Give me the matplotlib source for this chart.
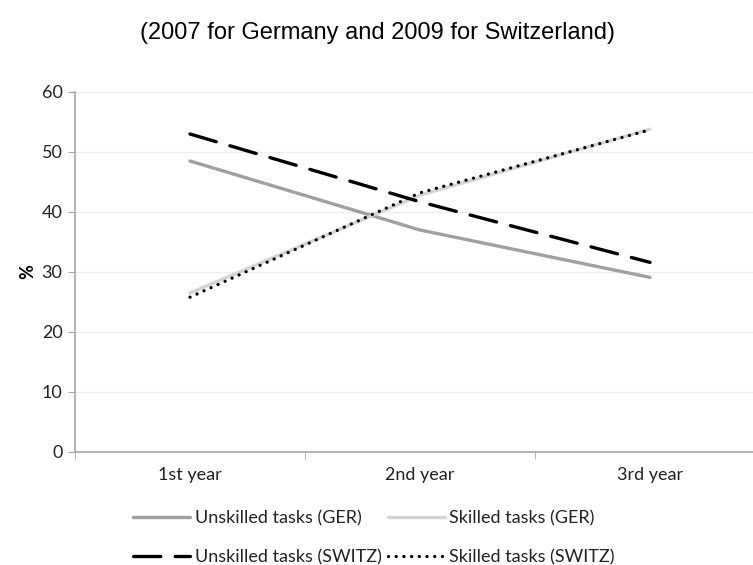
import matplotlib
matplotlib.use("Agg")
import matplotlib.pyplot as plt

categories = ["1st year", "2nd year", "3rd year"]
unskilled_ger = [48.5, 37.0, 29.1]
skilled_ger = [26.5, 42.8, 53.8]
unskilled_switz = [53.0, 41.7, 31.6]
skilled_switz = [25.8, 43.2, 53.7]
labels = ["Unskilled tasks (GER)", "Skilled tasks (GER)",
          "Unskilled tasks (SWITZ)", "Skilled tasks (SWITZ)"]
yticks = [0, 10, 20, 30, 40, 50, 60]

W, H = 753, 565
FS = 13
fig = plt.figure(figsize=(W / 100, H / 100), dpi=100)
ax = fig.add_axes([75 / W, 1 - 452 / H, 690 / W, 360 / H])

x = list(range(len(categories)))
l1, = ax.plot(x, unskilled_ger, color="#A0A0A0", lw=2.4, solid_capstyle="round")
l2, = ax.plot(x, skilled_ger, color="#D4D4D4", lw=2.4, solid_capstyle="round")
l3, = ax.plot(x, unskilled_switz, color="black", lw=2.4,
              dashes=(8.2, 4.3), dash_capstyle="round")
l4, = ax.plot(x, skilled_switz, color="black", lw=2.4,
              dashes=(0.01, 2.3), dash_capstyle="round")

ax.set_xlim(-0.5, 2.5)
ax.set_ylim(0, 60)
ax.set_yticks(yticks)
ax.set_xticks(x)
ax.set_xticklabels(categories)
ax.set_xticks([-0.5, 0.5, 1.5, 2.5], minor=True)
ax.tick_params(axis="x", which="major", length=0, pad=11)
ax.tick_params(axis="x", which="minor", length=5, color="#A6A6A6")
ax.tick_params(axis="y", length=5, color="#A6A6A6", pad=4)
for lab in ax.get_xticklabels() + ax.get_yticklabels():
    lab.set_fontfamily("Lato")
    lab.set_fontsize(FS)
    lab.set_color("#222222")

ax.grid(axis="y", color="#EDEDED", lw=1)
ax.set_axisbelow(True)
for s in ["top", "right"]:
    ax.spines[s].set_visible(False)
for s in ["left", "bottom"]:
    ax.spines[s].set_color("#A6A6A6")
    ax.spines[s].set_linewidth(1.2)

ax.set_ylabel("%", fontfamily="Lato", fontsize=FS, fontweight="bold", labelpad=4)

fig.text(378 / W, 1 - 33 / H, "(2007 for Germany and 2009 for Switzerland)",
         ha="center", va="center", fontfamily="Liberation Sans", fontsize=17)

leg = fig.legend([l1, l3, l2, l4], [labels[0], labels[2], labels[1], labels[3]],
                 ncol=2, loc="center",
                 bbox_to_anchor=(374 / W, 1 - 538 / H), frameon=False,
                 handlelength=3.15, handletextpad=0.25, columnspacing=0.35,
                 labelspacing=1.25, prop={"family": "Lato", "size": FS})
for t in leg.get_texts():
    t.set_color("#222222")

fig.savefig("out.png", dpi=100)
